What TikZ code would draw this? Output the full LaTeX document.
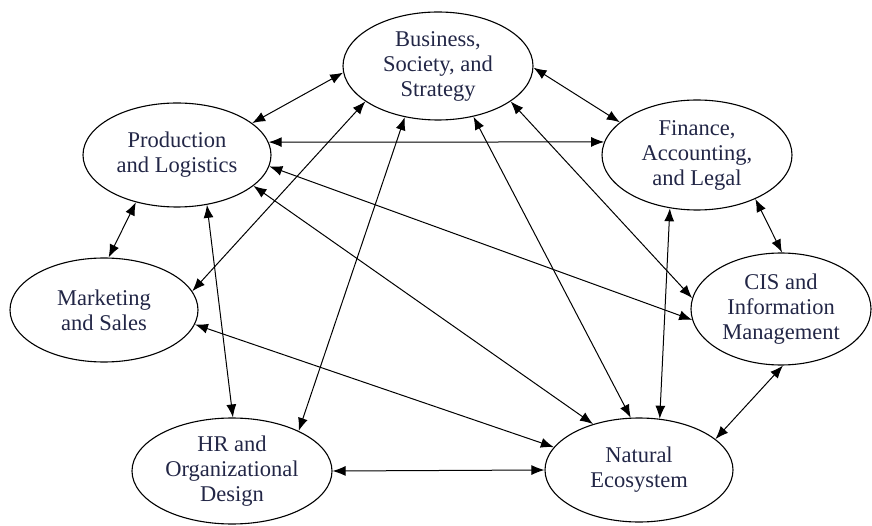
\documentclass[tikz,border=0pt]{standalone}
\usepackage{fontspec}
\setmainfont{Liberation Serif}
\usetikzlibrary{arrows.meta,shapes.geometric}
\definecolor{labelink}{RGB}{34,38,70}
\begin{document}
\begin{tikzpicture}[x=1pt,y=-1pt,
  area/.style={ellipse, draw, line width=1.1pt, inner sep=0pt, align=center,
    text=labelink, font=\fontsize{22.5}{25}\selectfont},
  link/.style={{Latex[length=13pt,width=10pt]}-{Latex[length=13pt,width=10pt]},
    line width=1pt}]
\useasboundingbox (0,0) rectangle (872,526);

% functional areas
\node[area, minimum width=190pt, minimum height=108pt] (bus) at (438,66) {Business,\\Society, and\\Strategy};
\node[area, minimum width=188pt, minimum height=104pt] (prod) at (177,155) {Production\\and Logistics};
\node[area, minimum width=190pt, minimum height=110pt] (fin) at (697,155) {Finance,\\Accounting,\\and Legal};
\node[area, minimum width=188pt, minimum height=104pt] (mkt) at (104,310) {Marketing\\and Sales};
\node[area, minimum width=180pt, minimum height=112pt] (cis) at (781,309) {CIS and\\Information\\Management};
\node[area, minimum width=200pt, minimum height=106pt] (hr) at (232,471) {HR and\\Organizational\\Design};
\node[area, minimum width=188pt, minimum height=104pt] (nat) at (639,470) {Natural\\Ecosystem};

% two-way links between areas
\draw[link] (bus.184) -- (prod.23);
\draw[link] (bus.359) -- (fin.157);
\draw[link] (prod.8) -- (fin.172);
\draw[link] (prod.229) -- (mkt.85);
\draw[link] (fin.323) -- (cis.89);
\draw[link] (cis.272) -- (nat.22);
\draw[link] (hr.0) -- (nat.180);
\draw[link] (mkt.351) -- (nat.165);
\draw[link] (prod.338) -- (nat.135);
\draw[link] (prod.353) -- (cis.187);
\draw[link] (bus.206) -- (mkt.12);
\draw[link] (bus.237) -- (hr.31);
\draw[link] (prod.301) -- (hr.89.5);
\draw[link] (bus.305) -- (nat.99);
\draw[link] (bus.334) -- (cis.173);
\draw[link] (fin.243) -- (nat.68);
\end{tikzpicture}
\end{document}
